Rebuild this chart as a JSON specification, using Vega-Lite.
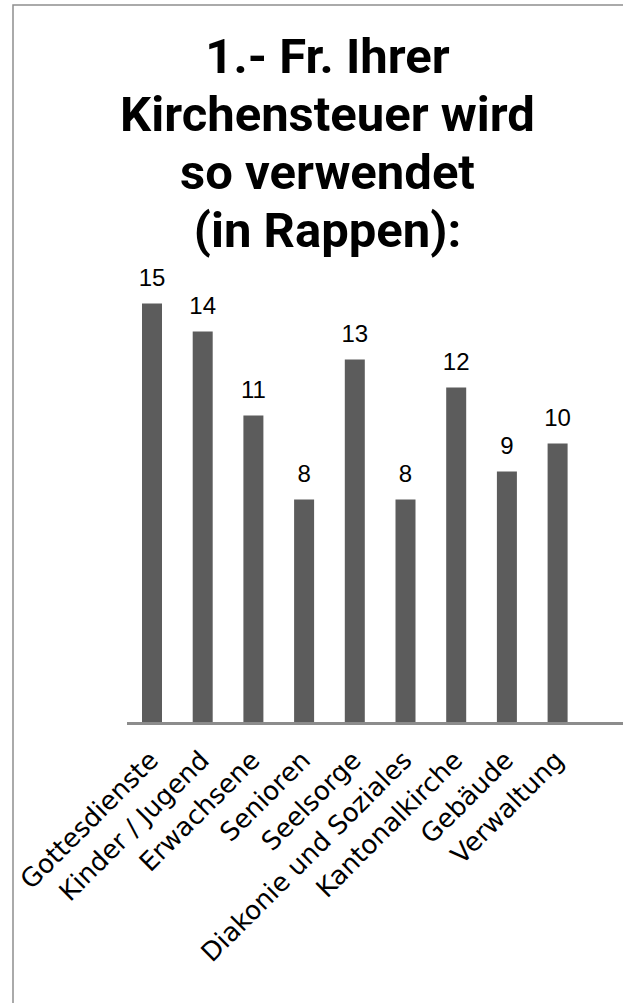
{
  "$schema": "https://vega.github.io/schema/vega-lite/v6.json",
  "width": 613,
  "height": 1001,
  "autosize": {"type": "none"},
  "padding": {"left": 13, "top": 5, "right": -3, "bottom": -3},
  "background": "white",
  "config": {"view": {"stroke": "#8f8f8f", "strokeWidth": 1.5}},
  "title": {
    "text": ["1.- Fr. Ihrer", "Kirchensteuer wird", "so verwendet", "(in Rappen):"],
    "font": "Roboto",
    "fontWeight": "bold",
    "fontSize": 49,
    "lineHeight": 58,
    "color": "#000000",
    "anchor": "middle",
    "frame": "group",
    "baseline": "alphabetic",
    "offset": -291,
    "dx": 8
  },
  "data": {
    "values": [
      {"k": "Gottesdienste", "v": 15},
      {"k": "Kinder / Jugend", "v": 14},
      {"k": "Erwachsene", "v": 11},
      {"k": "Senioren", "v": 8},
      {"k": "Seelsorge", "v": 13},
      {"k": "Diakonie und Soziales", "v": 8},
      {"k": "Kantonalkirche", "v": 12},
      {"k": "Gebäude", "v": 9},
      {"k": "Verwaltung", "v": 10}
    ]
  },
  "encoding": {
    "x": {
      "field": "k",
      "type": "nominal",
      "sort": null,
      "scale": {"range": [129, 554.6], "paddingInner": 0.6055, "paddingOuter": 0},
      "axis": {
        "orient": "bottom",
        "offset": -282.5,
        "domain": false,
        "ticks": false,
        "title": null,
        "labelAngle": -45,
        "labelAlign": "right",
        "labelBaseline": "top",
        "labelPadding": 23,
        "labelOffset": -7,
        "labelFont": "DejaVu Sans",
        "labelFontSize": 26,
        "labelColor": "#000000",
        "labelLimit": 500,
        "labelOverlap": false,
        "labelBound": false
      }
    }
  },
  "layer": [
    {
      "mark": {"type": "bar", "color": "#5c5c5c"},
      "encoding": {
        "y": {
          "field": "v",
          "type": "quantitative",
          "scale": {"domain": [-10.09, 25.66], "nice": false},
          "axis": null
        }
      }
    },
    {
      "mark": {"type": "text", "dy": -17, "baseline": "alphabetic", "font": "Liberation Sans", "fontSize": 24, "color": "#000000"},
      "encoding": {
        "y": {"field": "v", "type": "quantitative"},
        "text": {"field": "v", "type": "quantitative"}
      }
    },
    {
      "mark": {"type": "rule", "color": "#8c8c8c", "strokeWidth": 2},
      "encoding": {
        "x": {"datum": "Gottesdienste", "type": "nominal", "bandPosition": -0.75},
        "x2": {"value": "width"},
        "y": {"datum": 0, "type": "quantitative"}
      }
    }
  ]
}
